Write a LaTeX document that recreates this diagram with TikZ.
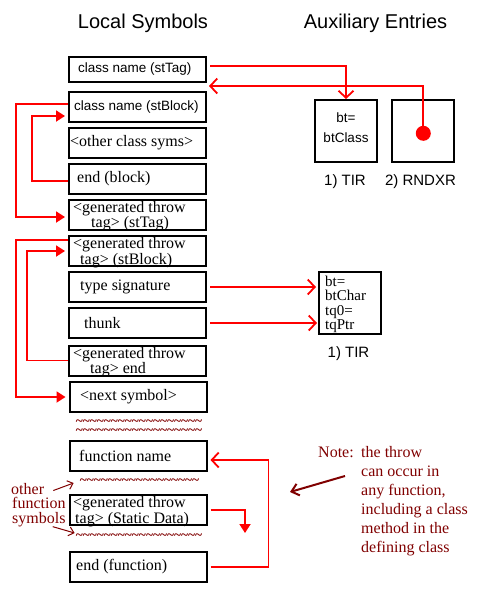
\documentclass[tikz,border=0pt]{standalone}
\usepackage{fontspec}
\setmainfont{Liberation Serif}
\setsansfont{Liberation Sans}
\usetikzlibrary{arrows.meta,positioning}

\definecolor{maroon}{RGB}{128,0,0}

\tikzset{
  symbox/.style={draw, line width=2pt, minimum width=137pt, minimum height=30pt, inner sep=0pt},
  auxbox/.style={draw, line width=2pt, minimum width=62pt, minimum height=62pt, inner sep=0pt},
  symtext/.style={inner sep=0pt, align=left, font=\fontsize{16}{12.5}\selectfont},
  symsans/.style={inner sep=0pt, font=\sffamily\fontsize{13.5}{15}\selectfont},
  auxlabel/.style={inner sep=0pt, font=\sffamily\fontsize{15}{17}\selectfont},
  heading/.style={inner sep=0pt, font=\sffamily\fontsize{20}{24}\selectfont},
  link/.style={red, line width=1.8pt},
  barb/.style={link, -{Straight Barb[length=7pt,width=15pt]}},
  hook/.style={link, -{Triangle[length=9pt,width=11pt]}},
  squiggle/.style={maroon, inner sep=0pt, font=\bfseries\fontsize{13.5}{14}\selectfont},
  remark/.style={maroon, inner sep=0pt, align=left, font=\fontsize{16}{19}\selectfont},
  remarkarrow/.style={maroon, line width=1pt, -{Straight Barb[length=5pt,width=9pt]}},
}
\newcommand{\squiggles}[1]{\foreach \k in {1,...,#1}{\textasciitilde}}

\begin{document}
\begin{tikzpicture}[x=1pt,y=-1pt]

    \useasboundingbox (0,0) rectangle (500,600);

    % headings
    \node[heading] (hLocal) at (143,23) {Local Symbols};
    \node[heading] (hAux) at (375.5,23) {Auxiliary Entries};

    % local symbol table
    \node[symbox, minimum height=25pt] (cnTag) at (137.5,69.5) {};
    \node[symbox] (cnBlock) at (137.5,107) {};
    \node[symbox] (otherSyms) at (137.5,142.5) {};
    \node[symbox] (endBlock) at (137.5,178.5) {};
    \node[symbox] (genTag) at (137.5,214.5) {};
    \node[symbox] (genBlock) at (137.5,251) {};
    \node[symbox] (typeSig) at (137.5,287) {};
    \node[symbox] (thunk) at (137.5,323) {};
    \node[symbox] (genEnd) at (137.5,360.5) {};
    \node[symbox] (nextSym) at (138,397) {};
    \node[symbox] (funcName) at (138,456) {};
    \node[symbox] (genStatic) at (138,510) {};
    \node[symbox] (endFunc) at (138,567) {};

    \node[symsans, right=10pt of cnTag.west] {class name (stTag)};
    \node[symsans, right=6pt of cnBlock.west] {class name (stBlock)};
    \node[symtext, right=2pt of otherSyms.west] {<other class syms>};
    \node[symtext, right=9pt of endBlock.west] {end (block)};
    \node[symtext, right=5pt of genTag.west, yshift=-1.5pt] {<generated throw\\\hspace*{18pt}tag> (stTag)};
    \node[symtext, right=5pt of genBlock.west, yshift=-1.5pt] {<generated throw\\\hspace*{7pt}tag> (stBlock)};
    \node[symtext, right=12pt of typeSig.west] {type signature};
    \node[symtext, right=16pt of thunk.west] {thunk};
    \node[symtext, right=5pt of genEnd.west, yshift=-1.5pt] {<generated throw\\\hspace*{17pt}tag> end};
    \node[symtext, right=11.5pt of nextSym.west] {<next symbol>};
    \node[symtext, right=10.5pt of funcName.west] {function name};
    \node[symtext, right=4.5pt of genStatic.west, yshift=-1.5pt] {<generated throw\\\hspace*{2pt}tag> (Static Data)};
    \node[symtext, right=7.5pt of endFunc.west] {end (function)};

    % elided symbols
    \node[squiggle] (wave1) at (139,423) {\squiggles{18}};
    \node[squiggle] (wave2) at (139,432) {\squiggles{18}};
    \node[squiggle] (wave3) at (139.5,482) {\squiggles{17}};
    \node[squiggle] (wave4) at (139,537) {\squiggles{18}};

    % auxiliary entries
    \node[auxbox] (tirClass) at (346,131) {};
    \node[symsans, align=center, font=\sffamily\fontsize{13.5}{20}\selectfont] at (346,128) {bt=\\btClass};
    \node[auxbox] (rndxr) at (422.5,130.5) {};
    \node[circle, fill=red, minimum size=15pt, inner sep=0pt] (rndDot) at (423.3,133.3) {};
    \node[auxlabel] at (345,181.5) {1) TIR};
    \node[auxlabel] at (420.5,181.5) {2) RNDXR};

    \node[auxbox] (tirChar) at (350,303) {};
    \node[symtext, anchor=west, font=\fontsize{15}{14.3}\selectfont] at (325,304.5) {bt=\\btChar\\tq0=\\tqPtr};
    \node[auxlabel] at (348.5,353.5) {1) TIR};

    % class links
    \coordinate (tagReturn) at (209,86);
    \draw[barb] ([xshift=3pt,yshift=3.5pt]cnTag.east) -| (tirClass.north);
    \draw[barb] (rndDot.center) |- (tagReturn);
    \draw[hook] ([yshift=3pt]cnBlock.west) -- ++(-52,0) |- ([xshift=-3pt,yshift=-2.5pt]genTag.west);
    \draw[hook] ([yshift=-2.5pt]endBlock.west) -- ++(-36,0) |- ([xshift=-3pt,yshift=-9pt]cnBlock.west);
    \draw[hook] ([yshift=11pt]genBlock.west) -- ++(-52,0) |- ([xshift=-3pt]nextSym.west);
    \draw[hook] (genEnd.west) -- ++(-41,0) |- ([xshift=-3pt]genBlock.west);
    \draw[barb] ([xshift=3pt]typeSig.east) -- ([xshift=-2pt]typeSig.east -| tirChar.west);
    \draw[barb] ([xshift=3pt]thunk.east) -- ([xshift=-1pt]thunk.east -| tirChar.west);

    % function links
    \coordinate (staticDrop) at (245,533);
    \draw[barb] ([xshift=3pt]endFunc.east) -- ++(58,0) |- ([xshift=3pt,yshift=-4pt]funcName.east);
    \draw[hook] ([xshift=3pt]genStatic.east) -| (staticDrop);

    % other function symbols
    \node[remark, anchor=base west] (ofsOther) at (11,494) {other};
    \node[remark, anchor=base west] (ofsFunc) at (12,508.5) {function};
    \node[remark, anchor=base west] (ofsSym) at (12,523) {symbols};
    \draw[remarkarrow] ([xshift=9pt,yshift=-2pt]ofsOther.east) -- ([xshift=-6pt,yshift=-1pt]wave3.west);
    \draw[remarkarrow] ([xshift=-13pt]ofsSym.south east) -- ([xshift=-1pt,yshift=4pt]wave4.west);

    % note
    \node[remark, anchor=base west] (noteHead) at (318,457) {Note:};
    \node[remark, anchor=west] (noteBody) at (361,500.7) {the throw\\can occur in\\any function,\\including a class\\method in the\\defining class};
    \coordinate (noteTip) at (290,492);
    \draw[remarkarrow, line width=2pt, -{Straight Barb[length=7pt,width=12pt]}] ([shift={(-16pt,24.7pt)}]noteBody.west) -- (noteTip);

\end{tikzpicture}
\end{document}
